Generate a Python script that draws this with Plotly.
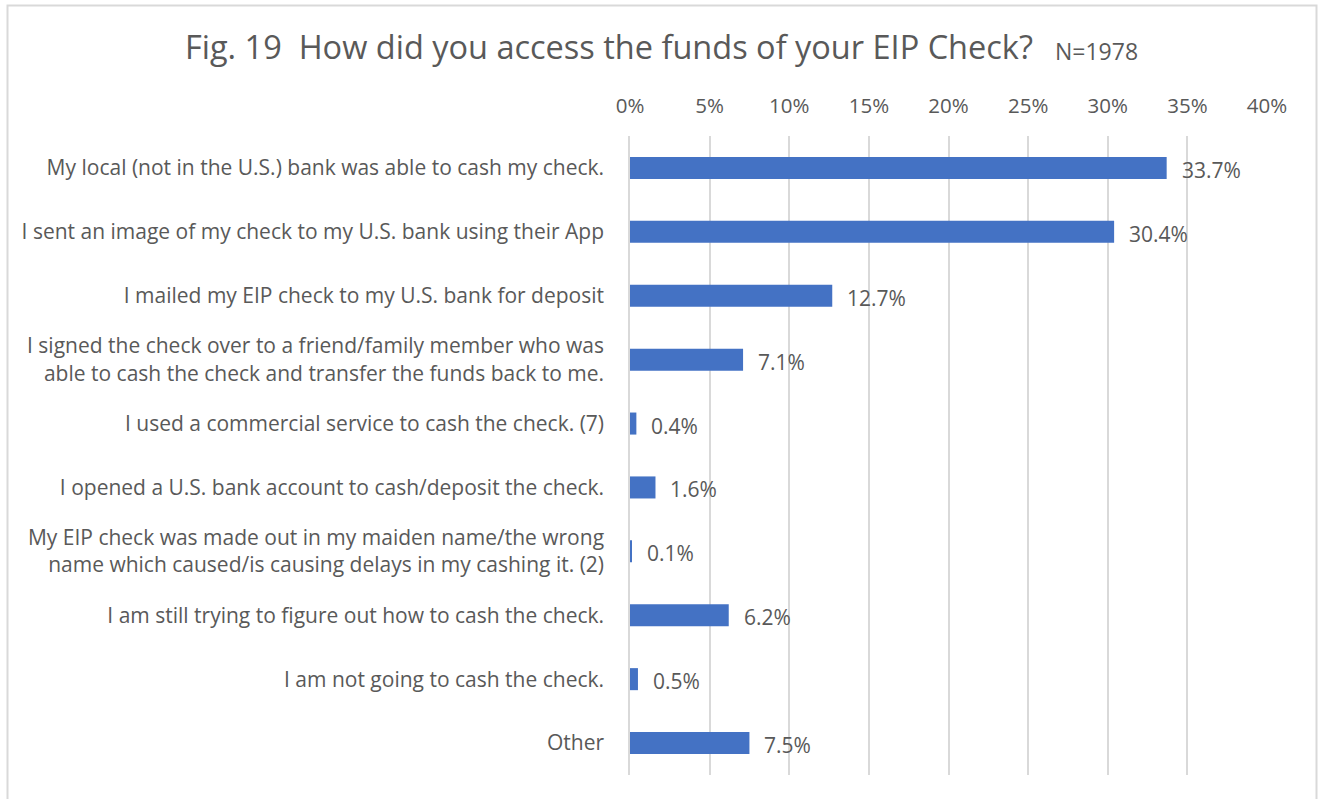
import plotly.graph_objects as go

# Survey responses, in display order (top to bottom)
categories = [
    "My local (not in the U.S.) bank was able to cash my check.",
    "I sent an image of my check to my U.S. bank using their App",
    "I mailed my EIP check to my U.S. bank for deposit",
    "I signed the check over to a friend/family member who was<br>able to cash the check and transfer the funds back to me.",
    "I used a commercial service to cash the check. (7)",
    "I opened a U.S. bank account to cash/deposit the check.",
    "My EIP check was made out in my maiden name/the wrong<br>name which caused/is causing delays in my cashing it. (2)",
    "I am still trying to figure out how to cash the check.",
    "I am not going to cash the check.",
    "Other",
]
shares = [33.7, 30.4, 12.7, 7.1, 0.4, 1.6, 0.1, 6.2, 0.5, 7.5]
tick_vals = [0, 5, 10, 15, 20, 25, 30, 35, 40]
tick_text = [f"{v}%" for v in tick_vals]

FONT = "Open Sans"
GREY = "#595959"
W, H = 1320, 799
ML, MR, MT, MB = 630, 53, 136, 24

fig = go.Figure(
    go.Bar(
        x=shares,
        y=categories,
        orientation="h",
        marker=dict(color="#4472C4", line=dict(width=0)),
        hoverinfo="x+y",
    )
)

# value labels to the right of each bar
for c, v in zip(categories, shares):
    fig.add_annotation(
        x=v, y=c, text=f"{v:.1f}%", showarrow=False,
        xanchor="left", xshift=13, yshift=-2,
        font=dict(family=FONT, size=21, color=GREY),
    )

plot_w = W - ML - MR
plot_h = H - MT - MB

def px_x(p):
    return (p - ML) / plot_w

def px_y(p):
    return (H - MB - p) / plot_h

# chart title and sample size
fig.add_annotation(
    x=px_x(183), y=px_y(47), xref="paper", yref="paper",
    xanchor="left", yanchor="middle", showarrow=False,
    text="Fig. 19  How did you access the funds of your EIP Check?",
    font=dict(family=FONT, size=32.5, color=GREY),
)
fig.add_annotation(
    x=px_x(1053), y=px_y(51), xref="paper", yref="paper",
    xanchor="left", yanchor="middle", showarrow=False,
    text="N=1978",
    font=dict(family=FONT, size=23, color=GREY),
)

# outer frame of the chart
fig.add_shape(
    type="rect", xref="paper", yref="paper",
    x0=px_x(7.5), x1=px_x(1316.5), y0=px_y(820), y1=px_y(5.5),
    line=dict(color="#d9d9d9", width=2), layer="below",
)

fig.update_layout(
    width=W, height=H,
    margin=dict(l=ML, r=MR, t=MT, b=MB),
    paper_bgcolor="white", plot_bgcolor="white",
    bargap=0.655,
    showlegend=False,
    font=dict(family=FONT, color=GREY, size=20),
)
fig.update_xaxes(
    side="top", range=[0, 40], tickvals=tick_vals, ticktext=tick_text,
    showgrid=True, gridcolor="#d9d9d9", gridwidth=1.5,
    zeroline=False, showline=False, ticks="", ticklabelstandoff=18,
    tickfont=dict(family=FONT, size=20.5, color=GREY), fixedrange=True,
)
fig.update_yaxes(
    autorange="reversed", showgrid=False, zeroline=False,
    showline=True, linecolor="#d9d9d9", linewidth=1.5,
    ticks="", ticklabelstandoff=20,
    tickfont=dict(family=FONT, size=21, color=GREY), fixedrange=True,
)

fig.write_html("out.html", config={"displayModeBar": False})
